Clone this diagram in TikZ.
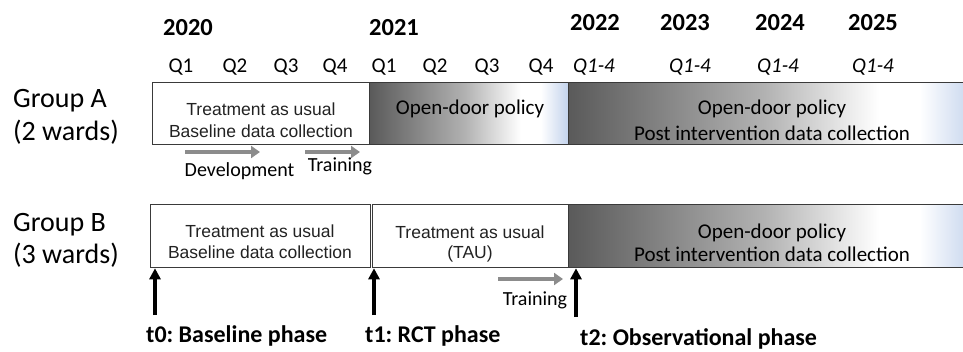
\documentclass[tikz,border=0pt]{standalone}
\usepackage{fontspec}
\setmainfont{Carlito}
\newfontfamily\arialf{Liberation Sans}
\usetikzlibrary{arrows.meta}
\frenchspacing
\definecolor{odpdark}{HTML}{5A5A5A}
\definecolor{odpmid}{HTML}{B2B2B2}
\definecolor{odpblue}{HTML}{C2D2EC}
\definecolor{boxline}{HTML}{3A3A3A}
\definecolor{arrgray}{HTML}{8C8C8C}
\definecolor{boxtext}{HTML}{222222}
\pgfdeclarehorizontalshading{odp}{100bp}{color(0bp)=(odpdark); color(25bp)=(odpdark); color(49bp)=(odpmid); color(63bp)=(white); color(68bp)=(white); color(75bp)=(odpblue); color(100bp)=(odpblue)}
\begin{document}
\begin{tikzpicture}[x=1pt,y=-1pt,
  box/.style={draw=boxline,line width=1.3pt,inner sep=0pt,anchor=north west,minimum height=62pt},
  odpbox/.style={box,shade,shading=odp},
  txt/.style={inner sep=0pt,anchor=base},
  yearf/.style={txt,font=\fontsize{24.5}{29}\selectfont\bfseries},
  qf/.style={txt,font=\fontsize{21}{25}\selectfont},
  qif/.style={txt,font=\fontsize{21}{25}\selectfont\itshape},
  grpf/.style={inner sep=0pt,anchor=base west,font=\fontsize{28}{33}\selectfont},
  arf/.style={txt,text=boxtext,font=\fontsize{17.5}{21}\arialf},
  odpf/.style={txt,font=\fontsize{21}{25}\selectfont},
  smallf/.style={txt,font=\fontsize{20}{24}\selectfont},
  phasef/.style={inner sep=0pt,anchor=base west,font=\fontsize{24}{29}\selectfont\bfseries},
  grayarr/.style={draw=arrgray,line width=4.5pt,-{Triangle[length=9pt,width=12pt]}},
  blackarr/.style={draw=black,line width=3.5pt,-{Triangle[length=11pt,width=11pt]}}]
\useasboundingbox (0,0) rectangle (963,351);
% years
\node[yearf] (y20) at (188,35) {2020};
\node[yearf] (y21) at (394,35) {2021};
\node[yearf] (y22) at (595,30) {2022};
\node[yearf] (y23) at (685,30) {2023};
\node[yearf] (y24) at (780,30) {2024};
\node[yearf] (y25) at (873,30) {2025};
% quarters
\node[qf] (q1a) at (181,72) {Q1};
\node[qf] (q2a) at (235,72) {Q2};
\node[qf] (q3a) at (286,72) {Q3};
\node[qf] (q4a) at (335,72) {Q4};
\node[qf] (q1b) at (384,72) {Q1};
\node[qf] (q2b) at (435,72) {Q2};
\node[qf] (q3b) at (487,72) {Q3};
\node[qf] (q4b) at (541,72) {Q4};
\node[qif] (qc) at (594,72) {Q1-4};
\node[qif] (qd) at (690,72) {Q1-4};
\node[qif] (qe) at (778,72) {Q1-4};
\node[qif] (qf) at (873,72) {Q1-4};
% group labels
\node[grpf] (gA) at (13,107) {Group A};
\node[grpf] (gA2) at (13,140) {(2 wards)};
\node[grpf] (gB) at (13,231) {Group B};
\node[grpf] (gB2) at (13,263) {(3 wards)};
% group A boxes
\node[box,minimum width=217pt] (A1) at (152,82) {};
\node[odpbox,minimum width=199pt] (A2) at (369,82) {};
\node[odpbox,minimum width=408pt] (A3) at (568,82) {};
\node[arf] (A1t1) at (261,115) {Treatment as usual};
\node[arf] (A1t2) at (261,137) {Baseline data collection};
\node[odpf] (A2t) at (470,114) {Open-door policy};
\node[odpf] (A3t1) at (772,114) {Open-door policy};
\node[odpf] (A3t2) at (772,140) {Post intervention data collection};
% group B boxes
\node[box,minimum width=220pt,minimum height=63pt] (B1) at (150,204) {};
\node[box,minimum width=196.5pt,minimum height=63pt] (B2) at (371.5,204) {};
\node[odpbox,minimum width=408pt,minimum height=63pt] (B3) at (568,204) {};
\node[arf] (B1t1) at (260,237) {Treatment as usual};
\node[arf] (B1t2) at (260,258) {Baseline data collection};
\node[arf] (B2t1) at (470,238) {Treatment as usual};
\node[arf] (B2t2) at (470,258) {(TAU)};
\node[odpf] (B3t1) at (772,238) {Open-door policy};
\node[odpf] (B3t2) at (772,261) {Post intervention data collection};
% gray arrows and labels
\coordinate (devs) at (185,152);
\coordinate (deve) at (260,152);
\coordinate (trAs) at (305,152);
\coordinate (trAe) at (360,152);
\coordinate (trBs) at (498,279);
\coordinate (trBe) at (563,279);
\draw[grayarr] (devs) -- (deve);
\draw[grayarr] (trAs) -- (trAe);
\draw[grayarr] (trBs) -- (trBe);
\node[smallf] (devl) at (239.5,176) {Development};
\node[smallf] (trAl) at (340,171) {Training};
\node[smallf] (trBl) at (535,305) {Training};
% phase arrows and labels
\node[phasef] (t0) at (146,342) {t0: Baseline phase};
\node[phasef] (t1) at (365,342) {t1: RCT phase};
\node[phasef] (t2) at (580,345) {t2: Observational phase};
\coordinate (t0s) at (155,315);
\coordinate (t1s) at (374,315);
\coordinate (t2s) at (576,317);
\draw[blackarr] (t0s) -- (t0s |- B1.south);
\draw[blackarr] (t1s) -- (t1s |- B2.south);
\draw[blackarr] (t2s) -- (t2s |- B3.south);
\end{tikzpicture}
\end{document}
